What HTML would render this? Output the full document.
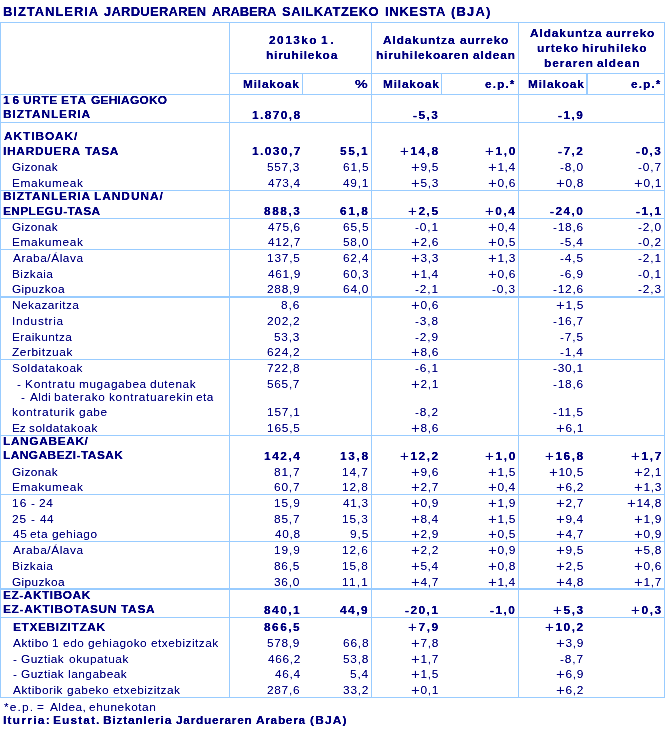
<!DOCTYPE html>
<html><head><meta charset="utf-8"><title>BJA</title>
<style>
html,body{margin:0;padding:0;background:#fff;}
body{width:667px;height:730px;position:relative;overflow:hidden;font-family:"Liberation Sans",sans-serif;color:#000080;}
.t{position:absolute;white-space:pre;line-height:14px;font-size:11px;transform:scaleX(1.08);transform-origin:0 0;}
.l{position:absolute;background:#9cf;}
.p{font-size:14px;font-weight:normal;position:relative;top:1px;line-height:0;}
.g{position:absolute;left:0;top:0;width:667px;height:730px;}
#tb{filter:url(#fb);} #tr{filter:url(#fr);}
</style></head><body>
<svg width="0" height="0" style="position:absolute"><defs>
<filter id="fb" x="0" y="0" width="100%" height="100%" color-interpolation-filters="sRGB"><feComponentTransfer><feFuncA type="table" tableValues="0 0.3 0.9 1 1"/></feComponentTransfer></filter>
<filter id="fr" x="0" y="0" width="100%" height="100%" color-interpolation-filters="sRGB"><feComponentTransfer><feFuncA type="table" tableValues="0 0.15 0.62 0.95 1"/></feComponentTransfer></filter>
</defs></svg>
<div class="l" style="left:0px;top:22px;width:665px;height:1px"></div>
<div class="l" style="left:0px;top:94px;width:665px;height:1px"></div>
<div class="l" style="left:0px;top:122px;width:665px;height:1px"></div>
<div class="l" style="left:0px;top:190px;width:665px;height:1px"></div>
<div class="l" style="left:0px;top:218px;width:665px;height:1px"></div>
<div class="l" style="left:0px;top:249px;width:665px;height:1px"></div>
<div class="l" style="left:0px;top:359px;width:665px;height:1px"></div>
<div class="l" style="left:0px;top:435px;width:665px;height:1px"></div>
<div class="l" style="left:0px;top:494px;width:665px;height:1px"></div>
<div class="l" style="left:0px;top:541px;width:665px;height:1px"></div>
<div class="l" style="left:0px;top:617px;width:665px;height:1px"></div>
<div class="l" style="left:0px;top:697px;width:665px;height:1px"></div>
<div class="l" style="left:0px;top:296px;width:665px;height:2px"></div>
<div class="l" style="left:0px;top:588px;width:665px;height:2px"></div>
<div class="l" style="left:229px;top:73px;width:436px;height:1px"></div>
<div class="l" style="left:0px;top:22px;width:1px;height:676px"></div>
<div class="l" style="left:229px;top:22px;width:1px;height:676px"></div>
<div class="l" style="left:371px;top:22px;width:1px;height:676px"></div>
<div class="l" style="left:518px;top:22px;width:1px;height:676px"></div>
<div class="l" style="left:664px;top:22px;width:1px;height:676px"></div>
<div class="l" style="left:302px;top:73px;width:1px;height:22px"></div>
<div class="l" style="left:441px;top:73px;width:1px;height:22px"></div>
<div class="l" style="left:586px;top:73px;width:2px;height:22px"></div>
<div class="g" id="tb">
<div class="t" style="left:3.13px;top:5.00px;font-size:12px;letter-spacing:0.906px;font-weight:bold;">BIZTANLERIA</div>
<div class="t" style="left:103.80px;top:5.00px;font-size:12px;letter-spacing:0.250px;font-weight:bold;">JARDUERAREN</div>
<div class="t" style="left:211.68px;top:5.00px;font-size:12px;letter-spacing:-0.083px;font-weight:bold;">ARABERA</div>
<div class="t" style="left:281.93px;top:5.00px;font-size:12px;letter-spacing:0.502px;font-weight:bold;">SAILKATZEKO</div>
<div class="t" style="left:384.73px;top:5.00px;font-size:12px;letter-spacing:0.692px;font-weight:bold;">INKESTA</div>
<div class="t" style="left:450.85px;top:5.00px;font-size:12px;letter-spacing:1.096px;font-weight:bold;">(BJA)</div>
<div class="t" style="left:269.39px;top:33.00px;font-size:11px;letter-spacing:1.357px;font-weight:bold;">2013ko</div>
<div class="t" style="left:320.87px;top:33.00px;font-size:11px;letter-spacing:2.626px;font-weight:bold;">1.</div>
<div class="t" style="left:265.52px;top:48.00px;font-size:11px;letter-spacing:0.730px;font-weight:bold;">hiruhilekoa</div>
<div class="t" style="left:383.20px;top:33.00px;font-size:11px;letter-spacing:0.839px;font-weight:bold;">Aldakuntza</div>
<div class="t" style="left:459.62px;top:33.00px;font-size:11px;letter-spacing:0.735px;font-weight:bold;">aurreko</div>
<div class="t" style="left:376.27px;top:48.00px;font-size:11px;letter-spacing:0.762px;font-weight:bold;">hiruhilekoaren</div>
<div class="t" style="left:472.86px;top:48.00px;font-size:11px;letter-spacing:0.805px;font-weight:bold;">aldean</div>
<div class="t" style="left:529.70px;top:26.00px;font-size:11px;letter-spacing:0.839px;font-weight:bold;">Aldakuntza</div>
<div class="t" style="left:606.12px;top:26.00px;font-size:11px;letter-spacing:0.735px;font-weight:bold;">aurreko</div>
<div class="t" style="left:536.96px;top:41.00px;font-size:11px;letter-spacing:0.858px;font-weight:bold;">urteko</div>
<div class="t" style="left:581.70px;top:41.00px;font-size:11px;letter-spacing:0.792px;font-weight:bold;">hiruhileko</div>
<div class="t" style="left:543.92px;top:56.00px;font-size:11px;letter-spacing:0.842px;font-weight:bold;">beraren</div>
<div class="t" style="left:597.03px;top:56.00px;font-size:11px;letter-spacing:0.883px;font-weight:bold;">aldean</div>
<div class="t" style="left:242.81px;top:77.00px;font-size:11px;letter-spacing:0.741px;font-weight:bold;">Milakoak</div>
<div class="t" style="left:355.24px;top:77.00px;font-size:11px;letter-spacing:1.894px;font-weight:bold;transform:scaleX(1.300);">%</div>
<div class="t" style="left:382.91px;top:77.00px;font-size:11px;letter-spacing:0.741px;font-weight:bold;">Milakoak</div>
<div class="t" style="left:484.84px;top:77.00px;font-size:11px;letter-spacing:1.016px;font-weight:bold;">e.p.*</div>
<div class="t" style="left:527.81px;top:77.00px;font-size:11px;letter-spacing:0.741px;font-weight:bold;">Milakoak</div>
<div class="t" style="left:630.84px;top:77.00px;font-size:11px;letter-spacing:1.016px;font-weight:bold;">e.p.*</div>
<div class="t" style="left:3.25px;top:93.00px;font-size:11px;letter-spacing:2.745px;font-weight:bold;">16</div>
<div class="t" style="left:23.29px;top:93.00px;font-size:11px;letter-spacing:0.567px;font-weight:bold;">URTE</div>
<div class="t" style="left:61.21px;top:93.00px;font-size:11px;letter-spacing:1.032px;font-weight:bold;">ETA</div>
<div class="t" style="left:90.51px;top:93.00px;font-size:11px;letter-spacing:0.238px;font-weight:bold;">GEHIAGOKO</div>
<div class="t" style="left:3.21px;top:107.00px;font-size:11px;letter-spacing:0.815px;font-weight:bold;">BIZTANLERIA</div>
<div class="t" style="left:251.55px;top:108.00px;font-size:11px;letter-spacing:1.309px;font-weight:bold;">1.870,8</div>
<div class="t" style="left:413.34px;top:108.00px;font-size:11px;letter-spacing:1.365px;font-weight:bold;">-5,3</div>
<div class="t" style="left:558.34px;top:108.00px;font-size:11px;letter-spacing:1.369px;font-weight:bold;">-1,9</div>
<div class="t" style="left:3.70px;top:129.00px;font-size:11px;letter-spacing:0.858px;font-weight:bold;">AKTIBOAK/</div>
<div class="t" style="left:3.21px;top:144.00px;font-size:11px;letter-spacing:0.675px;font-weight:bold;">IHARDUERA</div>
<div class="t" style="left:84.87px;top:144.00px;font-size:11px;letter-spacing:0.614px;font-weight:bold;">TASA</div>
<div class="t" style="left:251.55px;top:144.00px;font-size:11px;letter-spacing:1.333px;font-weight:bold;">1.030,7</div>
<div class="t" style="left:340.13px;top:144.00px;font-size:11px;letter-spacing:1.412px;font-weight:bold;">55,1</div>
<div class="t" style="left:400.06px;top:144.00px;font-size:11px;letter-spacing:1.425px;font-weight:bold;"><span class="p">+</span>14,8</div>
<div class="t" style="left:485.06px;top:144.00px;font-size:11px;letter-spacing:1.507px;font-weight:bold;"><span class="p">+</span>1,0</div>
<div class="t" style="left:558.34px;top:144.00px;font-size:11px;letter-spacing:1.380px;font-weight:bold;">-7,2</div>
<div class="t" style="left:636.34px;top:144.00px;font-size:11px;letter-spacing:1.365px;font-weight:bold;">-0,3</div>
<div class="t" style="left:3.21px;top:189.00px;font-size:11px;letter-spacing:0.815px;font-weight:bold;">BIZTANLERIA</div>
<div class="t" style="left:94.21px;top:189.00px;font-size:11px;letter-spacing:0.910px;font-weight:bold;">LANDUNA/</div>
<div class="t" style="left:3.21px;top:204.00px;font-size:11px;letter-spacing:0.359px;font-weight:bold;">ENPLEGU-TASA</div>
<div class="t" style="left:263.92px;top:204.00px;font-size:11px;letter-spacing:1.407px;font-weight:bold;">888,3</div>
<div class="t" style="left:340.06px;top:204.00px;font-size:11px;letter-spacing:1.444px;font-weight:bold;">61,8</div>
<div class="t" style="left:408.06px;top:204.00px;font-size:11px;letter-spacing:1.459px;font-weight:bold;"><span class="p">+</span>2,5</div>
<div class="t" style="left:485.06px;top:204.00px;font-size:11px;letter-spacing:1.376px;font-weight:bold;"><span class="p">+</span>0,4</div>
<div class="t" style="left:550.34px;top:204.00px;font-size:11px;letter-spacing:1.360px;font-weight:bold;">-24,0</div>
<div class="t" style="left:636.34px;top:204.00px;font-size:11px;letter-spacing:1.335px;font-weight:bold;">-1,1</div>
<div class="t" style="left:3.21px;top:434.00px;font-size:11px;letter-spacing:0.588px;font-weight:bold;">LANGABEAK/</div>
<div class="t" style="left:3.21px;top:448.00px;font-size:11px;letter-spacing:0.438px;font-weight:bold;">LANGABEZI-TASAK</div>
<div class="t" style="left:263.55px;top:449.00px;font-size:11px;letter-spacing:1.409px;font-weight:bold;">142,4</div>
<div class="t" style="left:339.75px;top:449.00px;font-size:11px;letter-spacing:1.541px;font-weight:bold;">13,8</div>
<div class="t" style="left:400.06px;top:449.00px;font-size:11px;letter-spacing:1.450px;font-weight:bold;"><span class="p">+</span>12,2</div>
<div class="t" style="left:485.06px;top:449.00px;font-size:11px;letter-spacing:1.507px;font-weight:bold;"><span class="p">+</span>1,0</div>
<div class="t" style="left:545.06px;top:449.00px;font-size:11px;letter-spacing:1.425px;font-weight:bold;"><span class="p">+</span>16,8</div>
<div class="t" style="left:631.06px;top:449.00px;font-size:11px;letter-spacing:1.518px;font-weight:bold;"><span class="p">+</span>1,7</div>
<div class="t" style="left:3.21px;top:588.00px;font-size:11px;letter-spacing:0.507px;font-weight:bold;">EZ-AKTIBOAK</div>
<div class="t" style="left:3.21px;top:602.00px;font-size:11px;letter-spacing:0.615px;font-weight:bold;">EZ-AKTIBOTASUN</div>
<div class="t" style="left:120.65px;top:602.00px;font-size:11px;letter-spacing:0.682px;font-weight:bold;">TASA</div>
<div class="t" style="left:263.92px;top:603.00px;font-size:11px;letter-spacing:1.384px;font-weight:bold;">840,1</div>
<div class="t" style="left:340.32px;top:603.00px;font-size:11px;letter-spacing:1.389px;font-weight:bold;">44,9</div>
<div class="t" style="left:405.34px;top:603.00px;font-size:11px;letter-spacing:1.324px;font-weight:bold;">-20,1</div>
<div class="t" style="left:490.34px;top:603.00px;font-size:11px;letter-spacing:1.383px;font-weight:bold;">-1,0</div>
<div class="t" style="left:553.06px;top:603.00px;font-size:11px;letter-spacing:1.489px;font-weight:bold;"><span class="p">+</span>5,3</div>
<div class="t" style="left:631.06px;top:603.00px;font-size:11px;letter-spacing:1.489px;font-weight:bold;"><span class="p">+</span>0,3</div>
<div class="t" style="left:12.71px;top:620.00px;font-size:11px;letter-spacing:0.586px;font-weight:bold;">ETXEBIZITZAK</div>
<div class="t" style="left:263.92px;top:620.00px;font-size:11px;letter-spacing:1.384px;font-weight:bold;">866,5</div>
<div class="t" style="left:408.06px;top:620.00px;font-size:11px;letter-spacing:1.493px;font-weight:bold;"><span class="p">+</span>7,9</div>
<div class="t" style="left:545.06px;top:620.00px;font-size:11px;letter-spacing:1.450px;font-weight:bold;"><span class="p">+</span>10,2</div>
<div class="t" style="left:3.21px;top:713.00px;font-size:11px;letter-spacing:1.192px;font-weight:bold;">Iturria:</div>
<div class="t" style="left:53.10px;top:713.00px;font-size:11px;letter-spacing:1.035px;font-weight:bold;">Eustat.</div>
<div class="t" style="left:103.00px;top:713.00px;font-size:11px;letter-spacing:0.760px;font-weight:bold;">Biztanleria</div>
<div class="t" style="left:176.38px;top:713.00px;font-size:11px;letter-spacing:0.656px;font-weight:bold;">Jardueraren</div>
<div class="t" style="left:256.31px;top:713.00px;font-size:11px;letter-spacing:0.644px;font-weight:bold;">Arabera</div>
<div class="t" style="left:310.06px;top:713.00px;font-size:11px;letter-spacing:1.123px;font-weight:bold;">(BJA)</div>
</div>
<div class="g" id="tr">
<div class="t" style="left:12.20px;top:160.00px;font-size:11px;letter-spacing:0.309px;">Gizonak</div>
<div class="t" style="left:267.42px;top:160.00px;font-size:11px;letter-spacing:0.618px;">557,3</div>
<div class="t" style="left:342.50px;top:160.00px;font-size:11px;letter-spacing:0.735px;">61,5</div>
<div class="t" style="left:411.06px;top:160.00px;font-size:11px;letter-spacing:0.585px;"><span class="p">+</span>9,5</div>
<div class="t" style="left:488.06px;top:160.00px;font-size:11px;letter-spacing:0.538px;"><span class="p">+</span>1,4</div>
<div class="t" style="left:560.27px;top:160.00px;font-size:11px;letter-spacing:0.779px;">-8,0</div>
<div class="t" style="left:638.27px;top:160.00px;font-size:11px;letter-spacing:0.820px;">-0,7</div>
<div class="t" style="left:11.83px;top:176.00px;font-size:11px;letter-spacing:0.571px;">Emakumeak</div>
<div class="t" style="left:267.63px;top:176.00px;font-size:11px;letter-spacing:0.531px;">473,4</div>
<div class="t" style="left:342.83px;top:176.00px;font-size:11px;letter-spacing:0.658px;">49,1</div>
<div class="t" style="left:411.06px;top:176.00px;font-size:11px;letter-spacing:0.592px;"><span class="p">+</span>5,3</div>
<div class="t" style="left:488.06px;top:176.00px;font-size:11px;letter-spacing:0.592px;"><span class="p">+</span>0,6</div>
<div class="t" style="left:556.06px;top:176.00px;font-size:11px;letter-spacing:0.590px;"><span class="p">+</span>0,8</div>
<div class="t" style="left:634.06px;top:176.00px;font-size:11px;letter-spacing:0.610px;"><span class="p">+</span>0,1</div>
<div class="t" style="left:12.20px;top:220.00px;font-size:11px;letter-spacing:0.309px;">Gizonak</div>
<div class="t" style="left:267.63px;top:220.00px;font-size:11px;letter-spacing:0.571px;">475,6</div>
<div class="t" style="left:342.50px;top:220.00px;font-size:11px;letter-spacing:0.735px;">65,5</div>
<div class="t" style="left:415.27px;top:220.00px;font-size:11px;letter-spacing:0.814px;">-0,1</div>
<div class="t" style="left:488.06px;top:220.00px;font-size:11px;letter-spacing:0.538px;"><span class="p">+</span>0,4</div>
<div class="t" style="left:553.27px;top:220.00px;font-size:11px;letter-spacing:0.688px;">-18,6</div>
<div class="t" style="left:638.27px;top:220.00px;font-size:11px;letter-spacing:0.779px;">-2,0</div>
<div class="t" style="left:11.83px;top:235.00px;font-size:11px;letter-spacing:0.571px;">Emakumeak</div>
<div class="t" style="left:267.63px;top:235.00px;font-size:11px;letter-spacing:0.589px;">412,7</div>
<div class="t" style="left:342.62px;top:235.00px;font-size:11px;letter-spacing:0.685px;">58,0</div>
<div class="t" style="left:411.06px;top:235.00px;font-size:11px;letter-spacing:0.592px;"><span class="p">+</span>2,6</div>
<div class="t" style="left:488.06px;top:235.00px;font-size:11px;letter-spacing:0.585px;"><span class="p">+</span>0,5</div>
<div class="t" style="left:560.27px;top:235.00px;font-size:11px;letter-spacing:0.743px;">-5,4</div>
<div class="t" style="left:638.27px;top:235.00px;font-size:11px;letter-spacing:0.820px;">-0,2</div>
<div class="t" style="left:12.78px;top:251.00px;font-size:11px;letter-spacing:0.491px;">Araba/Álava</div>
<div class="t" style="left:267.00px;top:251.00px;font-size:11px;letter-spacing:0.712px;">137,5</div>
<div class="t" style="left:342.50px;top:251.00px;font-size:11px;letter-spacing:0.689px;">62,4</div>
<div class="t" style="left:411.06px;top:251.00px;font-size:11px;letter-spacing:0.592px;"><span class="p">+</span>3,3</div>
<div class="t" style="left:488.06px;top:251.00px;font-size:11px;letter-spacing:0.592px;"><span class="p">+</span>1,3</div>
<div class="t" style="left:560.27px;top:251.00px;font-size:11px;letter-spacing:0.789px;">-4,5</div>
<div class="t" style="left:638.27px;top:251.00px;font-size:11px;letter-spacing:0.814px;">-2,1</div>
<div class="t" style="left:11.83px;top:267.00px;font-size:11px;letter-spacing:0.413px;">Bizkaia</div>
<div class="t" style="left:267.63px;top:267.00px;font-size:11px;letter-spacing:0.581px;">461,9</div>
<div class="t" style="left:342.50px;top:267.00px;font-size:11px;letter-spacing:0.742px;">60,3</div>
<div class="t" style="left:411.06px;top:267.00px;font-size:11px;letter-spacing:0.538px;"><span class="p">+</span>1,4</div>
<div class="t" style="left:488.06px;top:267.00px;font-size:11px;letter-spacing:0.592px;"><span class="p">+</span>0,6</div>
<div class="t" style="left:560.27px;top:267.00px;font-size:11px;letter-spacing:0.809px;">-6,9</div>
<div class="t" style="left:638.27px;top:267.00px;font-size:11px;letter-spacing:0.814px;">-0,1</div>
<div class="t" style="left:12.20px;top:282.00px;font-size:11px;letter-spacing:0.319px;">Gipuzkoa</div>
<div class="t" style="left:267.30px;top:282.00px;font-size:11px;letter-spacing:0.656px;">288,9</div>
<div class="t" style="left:342.50px;top:282.00px;font-size:11px;letter-spacing:0.724px;">64,0</div>
<div class="t" style="left:415.27px;top:282.00px;font-size:11px;letter-spacing:0.814px;">-2,1</div>
<div class="t" style="left:492.27px;top:282.00px;font-size:11px;letter-spacing:0.796px;">-0,3</div>
<div class="t" style="left:553.27px;top:282.00px;font-size:11px;letter-spacing:0.688px;">-12,6</div>
<div class="t" style="left:638.27px;top:282.00px;font-size:11px;letter-spacing:0.796px;">-2,3</div>
<div class="t" style="left:11.83px;top:298.00px;font-size:11px;letter-spacing:0.394px;">Nekazaritza</div>
<div class="t" style="left:281.38px;top:298.00px;font-size:11px;letter-spacing:0.891px;">8,6</div>
<div class="t" style="left:411.06px;top:298.00px;font-size:11px;letter-spacing:0.592px;"><span class="p">+</span>0,6</div>
<div class="t" style="left:556.06px;top:298.00px;font-size:11px;letter-spacing:0.585px;"><span class="p">+</span>1,5</div>
<div class="t" style="left:11.70px;top:314.00px;font-size:11px;letter-spacing:0.640px;">Industria</div>
<div class="t" style="left:267.30px;top:314.00px;font-size:11px;letter-spacing:0.664px;">202,2</div>
<div class="t" style="left:415.27px;top:314.00px;font-size:11px;letter-spacing:0.795px;">-3,8</div>
<div class="t" style="left:553.27px;top:314.00px;font-size:11px;letter-spacing:0.706px;">-16,7</div>
<div class="t" style="left:11.83px;top:330.00px;font-size:11px;letter-spacing:0.396px;">Eraikuntza</div>
<div class="t" style="left:274.42px;top:330.00px;font-size:11px;letter-spacing:0.703px;">53,3</div>
<div class="t" style="left:415.27px;top:330.00px;font-size:11px;letter-spacing:0.809px;">-2,9</div>
<div class="t" style="left:560.27px;top:330.00px;font-size:11px;letter-spacing:0.789px;">-7,5</div>
<div class="t" style="left:12.42px;top:345.00px;font-size:11px;letter-spacing:0.504px;">Zerbitzuak</div>
<div class="t" style="left:267.30px;top:345.00px;font-size:11px;letter-spacing:0.665px;">624,2</div>
<div class="t" style="left:411.06px;top:345.00px;font-size:11px;letter-spacing:0.592px;"><span class="p">+</span>8,6</div>
<div class="t" style="left:560.27px;top:345.00px;font-size:11px;letter-spacing:0.743px;">-1,4</div>
<div class="t" style="left:12.26px;top:361.00px;font-size:11px;letter-spacing:0.476px;">Soldatakoak</div>
<div class="t" style="left:267.29px;top:361.00px;font-size:11px;letter-spacing:0.648px;">722,8</div>
<div class="t" style="left:415.27px;top:361.00px;font-size:11px;letter-spacing:0.814px;">-6,1</div>
<div class="t" style="left:553.27px;top:361.00px;font-size:11px;letter-spacing:0.702px;">-30,1</div>
<div class="t" style="left:17.04px;top:377.00px;font-size:11px;letter-spacing:0.000px;">-</div>
<div class="t" style="left:25.08px;top:377.00px;font-size:11px;letter-spacing:0.678px;">Kontratu</div>
<div class="t" style="left:78.56px;top:377.00px;font-size:11px;letter-spacing:0.511px;">mugagabea</div>
<div class="t" style="left:150.25px;top:377.00px;font-size:11px;letter-spacing:0.534px;">dutenak</div>
<div class="t" style="left:267.42px;top:377.00px;font-size:11px;letter-spacing:0.636px;">565,7</div>
<div class="t" style="left:411.06px;top:377.00px;font-size:11px;letter-spacing:0.610px;"><span class="p">+</span>2,1</div>
<div class="t" style="left:553.27px;top:377.00px;font-size:11px;letter-spacing:0.688px;">-18,6</div>
<div class="t" style="left:21.00px;top:390.00px;font-size:11px;letter-spacing:0.000px;">-</div>
<div class="t" style="left:29.91px;top:390.00px;font-size:11px;letter-spacing:0.268px;">Aldi</div>
<div class="t" style="left:53.99px;top:390.00px;font-size:11px;letter-spacing:0.618px;">baterako</div>
<div class="t" style="left:108.56px;top:390.00px;font-size:11px;letter-spacing:0.619px;">kontratuarekin</div>
<div class="t" style="left:196.22px;top:390.00px;font-size:11px;letter-spacing:0.402px;">eta</div>
<div class="t" style="left:12.00px;top:405.00px;font-size:11px;letter-spacing:0.678px;">kontraturik</div>
<div class="t" style="left:79.30px;top:405.00px;font-size:11px;letter-spacing:0.494px;">gabe</div>
<div class="t" style="left:267.00px;top:405.00px;font-size:11px;letter-spacing:0.731px;">157,1</div>
<div class="t" style="left:415.27px;top:405.00px;font-size:11px;letter-spacing:0.820px;">-8,2</div>
<div class="t" style="left:553.27px;top:405.00px;font-size:11px;letter-spacing:0.887px;">-11,5</div>
<div class="t" style="left:11.83px;top:421.00px;font-size:11px;letter-spacing:-0.276px;">Ez</div>
<div class="t" style="left:29.47px;top:421.00px;font-size:11px;letter-spacing:0.455px;">soldatakoak</div>
<div class="t" style="left:267.00px;top:421.00px;font-size:11px;letter-spacing:0.712px;">165,5</div>
<div class="t" style="left:411.06px;top:421.00px;font-size:11px;letter-spacing:0.592px;"><span class="p">+</span>8,6</div>
<div class="t" style="left:556.06px;top:421.00px;font-size:11px;letter-spacing:0.610px;"><span class="p">+</span>6,1</div>
<div class="t" style="left:12.20px;top:465.00px;font-size:11px;letter-spacing:0.309px;">Gizonak</div>
<div class="t" style="left:274.38px;top:465.00px;font-size:11px;letter-spacing:0.739px;">81,7</div>
<div class="t" style="left:342.20px;top:465.00px;font-size:11px;letter-spacing:0.859px;">14,7</div>
<div class="t" style="left:411.06px;top:465.00px;font-size:11px;letter-spacing:0.592px;"><span class="p">+</span>9,6</div>
<div class="t" style="left:488.06px;top:465.00px;font-size:11px;letter-spacing:0.585px;"><span class="p">+</span>1,5</div>
<div class="t" style="left:549.06px;top:465.00px;font-size:11px;letter-spacing:0.529px;"><span class="p">+</span>10,5</div>
<div class="t" style="left:634.06px;top:465.00px;font-size:11px;letter-spacing:0.610px;"><span class="p">+</span>2,1</div>
<div class="t" style="left:11.83px;top:480.00px;font-size:11px;letter-spacing:0.571px;">Emakumeak</div>
<div class="t" style="left:274.30px;top:480.00px;font-size:11px;letter-spacing:0.766px;">60,7</div>
<div class="t" style="left:342.20px;top:480.00px;font-size:11px;letter-spacing:0.834px;">12,8</div>
<div class="t" style="left:411.06px;top:480.00px;font-size:11px;letter-spacing:0.615px;"><span class="p">+</span>2,7</div>
<div class="t" style="left:488.06px;top:480.00px;font-size:11px;letter-spacing:0.538px;"><span class="p">+</span>0,4</div>
<div class="t" style="left:556.06px;top:480.00px;font-size:11px;letter-spacing:0.615px;"><span class="p">+</span>6,2</div>
<div class="t" style="left:634.06px;top:480.00px;font-size:11px;letter-spacing:0.592px;"><span class="p">+</span>1,3</div>
<div class="t" style="left:11.90px;top:496.00px;font-size:11px;letter-spacing:1.124px;">16</div>
<div class="t" style="left:30.82px;top:496.00px;font-size:11px;letter-spacing:0.000px;">-</div>
<div class="t" style="left:39.20px;top:496.00px;font-size:11px;letter-spacing:0.678px;">24</div>
<div class="t" style="left:274.00px;top:496.00px;font-size:11px;letter-spacing:0.848px;">15,9</div>
<div class="t" style="left:342.83px;top:496.00px;font-size:11px;letter-spacing:0.640px;">41,3</div>
<div class="t" style="left:411.06px;top:496.00px;font-size:11px;letter-spacing:0.604px;"><span class="p">+</span>0,9</div>
<div class="t" style="left:488.06px;top:496.00px;font-size:11px;letter-spacing:0.604px;"><span class="p">+</span>1,9</div>
<div class="t" style="left:556.06px;top:496.00px;font-size:11px;letter-spacing:0.615px;"><span class="p">+</span>2,7</div>
<div class="t" style="left:627.06px;top:496.00px;font-size:11px;letter-spacing:0.534px;"><span class="p">+</span>14,8</div>
<div class="t" style="left:12.20px;top:512.00px;font-size:11px;letter-spacing:0.818px;">25</div>
<div class="t" style="left:30.82px;top:512.00px;font-size:11px;letter-spacing:0.000px;">-</div>
<div class="t" style="left:39.53px;top:512.00px;font-size:11px;letter-spacing:0.377px;">44</div>
<div class="t" style="left:274.38px;top:512.00px;font-size:11px;letter-spacing:0.739px;">85,7</div>
<div class="t" style="left:342.20px;top:512.00px;font-size:11px;letter-spacing:0.835px;">15,3</div>
<div class="t" style="left:411.06px;top:512.00px;font-size:11px;letter-spacing:0.538px;"><span class="p">+</span>8,4</div>
<div class="t" style="left:488.06px;top:512.00px;font-size:11px;letter-spacing:0.585px;"><span class="p">+</span>1,5</div>
<div class="t" style="left:556.06px;top:512.00px;font-size:11px;letter-spacing:0.538px;"><span class="p">+</span>9,4</div>
<div class="t" style="left:634.06px;top:512.00px;font-size:11px;letter-spacing:0.604px;"><span class="p">+</span>1,9</div>
<div class="t" style="left:12.53px;top:527.00px;font-size:11px;letter-spacing:0.517px;">45</div>
<div class="t" style="left:30.30px;top:527.00px;font-size:11px;letter-spacing:0.459px;">eta</div>
<div class="t" style="left:52.30px;top:527.00px;font-size:11px;letter-spacing:0.420px;">gehiago</div>
<div class="t" style="left:274.63px;top:527.00px;font-size:11px;letter-spacing:0.638px;">40,8</div>
<div class="t" style="left:349.54px;top:527.00px;font-size:11px;letter-spacing:0.899px;">9,5</div>
<div class="t" style="left:411.06px;top:527.00px;font-size:11px;letter-spacing:0.604px;"><span class="p">+</span>2,9</div>
<div class="t" style="left:488.06px;top:527.00px;font-size:11px;letter-spacing:0.585px;"><span class="p">+</span>0,5</div>
<div class="t" style="left:556.06px;top:527.00px;font-size:11px;letter-spacing:0.615px;"><span class="p">+</span>4,7</div>
<div class="t" style="left:634.06px;top:527.00px;font-size:11px;letter-spacing:0.604px;"><span class="p">+</span>0,9</div>
<div class="t" style="left:12.78px;top:543.00px;font-size:11px;letter-spacing:0.491px;">Araba/Álava</div>
<div class="t" style="left:274.00px;top:543.00px;font-size:11px;letter-spacing:0.848px;">19,9</div>
<div class="t" style="left:342.20px;top:543.00px;font-size:11px;letter-spacing:0.835px;">12,6</div>
<div class="t" style="left:411.06px;top:543.00px;font-size:11px;letter-spacing:0.615px;"><span class="p">+</span>2,2</div>
<div class="t" style="left:488.06px;top:543.00px;font-size:11px;letter-spacing:0.604px;"><span class="p">+</span>0,9</div>
<div class="t" style="left:556.06px;top:543.00px;font-size:11px;letter-spacing:0.585px;"><span class="p">+</span>9,5</div>
<div class="t" style="left:634.06px;top:543.00px;font-size:11px;letter-spacing:0.590px;"><span class="p">+</span>5,8</div>
<div class="t" style="left:11.83px;top:559.00px;font-size:11px;letter-spacing:0.413px;">Bizkaia</div>
<div class="t" style="left:274.38px;top:559.00px;font-size:11px;letter-spacing:0.708px;">86,5</div>
<div class="t" style="left:342.20px;top:559.00px;font-size:11px;letter-spacing:0.834px;">15,8</div>
<div class="t" style="left:411.06px;top:559.00px;font-size:11px;letter-spacing:0.538px;"><span class="p">+</span>5,4</div>
<div class="t" style="left:488.06px;top:559.00px;font-size:11px;letter-spacing:0.590px;"><span class="p">+</span>0,8</div>
<div class="t" style="left:556.06px;top:559.00px;font-size:11px;letter-spacing:0.585px;"><span class="p">+</span>2,5</div>
<div class="t" style="left:634.06px;top:559.00px;font-size:11px;letter-spacing:0.592px;"><span class="p">+</span>0,6</div>
<div class="t" style="left:12.20px;top:575.00px;font-size:11px;letter-spacing:0.319px;">Gipuzkoa</div>
<div class="t" style="left:274.45px;top:575.00px;font-size:11px;letter-spacing:0.678px;">36,0</div>
<div class="t" style="left:342.20px;top:575.00px;font-size:11px;letter-spacing:1.125px;">11,1</div>
<div class="t" style="left:411.06px;top:575.00px;font-size:11px;letter-spacing:0.615px;"><span class="p">+</span>4,7</div>
<div class="t" style="left:488.06px;top:575.00px;font-size:11px;letter-spacing:0.538px;"><span class="p">+</span>1,4</div>
<div class="t" style="left:556.06px;top:575.00px;font-size:11px;letter-spacing:0.590px;"><span class="p">+</span>4,8</div>
<div class="t" style="left:634.06px;top:575.00px;font-size:11px;letter-spacing:0.615px;"><span class="p">+</span>1,7</div>
<div class="t" style="left:12.98px;top:636.00px;font-size:11px;letter-spacing:0.432px;">Aktibo</div>
<div class="t" style="left:52.32px;top:636.00px;font-size:11px;letter-spacing:0.000px;">1</div>
<div class="t" style="left:63.25px;top:636.00px;font-size:11px;letter-spacing:0.503px;">edo</div>
<div class="t" style="left:88.13px;top:636.00px;font-size:11px;letter-spacing:0.450px;">gehiagoko</div>
<div class="t" style="left:150.82px;top:636.00px;font-size:11px;letter-spacing:0.429px;">etxebizitzak</div>
<div class="t" style="left:267.42px;top:636.00px;font-size:11px;letter-spacing:0.628px;">578,9</div>
<div class="t" style="left:342.50px;top:636.00px;font-size:11px;letter-spacing:0.740px;">66,8</div>
<div class="t" style="left:411.06px;top:636.00px;font-size:11px;letter-spacing:0.590px;"><span class="p">+</span>7,8</div>
<div class="t" style="left:556.06px;top:636.00px;font-size:11px;letter-spacing:0.604px;"><span class="p">+</span>3,9</div>
<div class="t" style="left:13.02px;top:652.00px;font-size:11px;letter-spacing:0.000px;">-</div>
<div class="t" style="left:21.40px;top:652.00px;font-size:11px;letter-spacing:0.356px;">Guztiak</div>
<div class="t" style="left:68.50px;top:652.00px;font-size:11px;letter-spacing:0.540px;">okupatuak</div>
<div class="t" style="left:267.63px;top:652.00px;font-size:11px;letter-spacing:0.589px;">466,2</div>
<div class="t" style="left:342.62px;top:652.00px;font-size:11px;letter-spacing:0.701px;">53,8</div>
<div class="t" style="left:411.06px;top:652.00px;font-size:11px;letter-spacing:0.615px;"><span class="p">+</span>1,7</div>
<div class="t" style="left:560.27px;top:652.00px;font-size:11px;letter-spacing:0.820px;">-8,7</div>
<div class="t" style="left:13.02px;top:667.00px;font-size:11px;letter-spacing:0.000px;">-</div>
<div class="t" style="left:21.40px;top:667.00px;font-size:11px;letter-spacing:0.356px;">Guztiak</div>
<div class="t" style="left:68.20px;top:667.00px;font-size:11px;letter-spacing:0.458px;">langabeak</div>
<div class="t" style="left:274.63px;top:667.00px;font-size:11px;letter-spacing:0.586px;">46,4</div>
<div class="t" style="left:349.62px;top:667.00px;font-size:11px;letter-spacing:0.792px;">5,4</div>
<div class="t" style="left:411.06px;top:667.00px;font-size:11px;letter-spacing:0.585px;"><span class="p">+</span>1,5</div>
<div class="t" style="left:556.06px;top:667.00px;font-size:11px;letter-spacing:0.604px;"><span class="p">+</span>6,9</div>
<div class="t" style="left:12.98px;top:683.00px;font-size:11px;letter-spacing:0.464px;">Aktiborik</div>
<div class="t" style="left:67.01px;top:683.00px;font-size:11px;letter-spacing:0.492px;">gabeko</div>
<div class="t" style="left:112.59px;top:683.00px;font-size:11px;letter-spacing:0.406px;">etxebizitzak</div>
<div class="t" style="left:267.30px;top:683.00px;font-size:11px;letter-spacing:0.646px;">287,6</div>
<div class="t" style="left:342.65px;top:683.00px;font-size:11px;letter-spacing:0.719px;">33,2</div>
<div class="t" style="left:411.06px;top:683.00px;font-size:11px;letter-spacing:0.610px;"><span class="p">+</span>0,1</div>
<div class="t" style="left:556.06px;top:683.00px;font-size:11px;letter-spacing:0.615px;"><span class="p">+</span>6,2</div>
<div class="t" style="left:3.81px;top:700.00px;font-size:11px;letter-spacing:1.077px;">*e.p.</div>
<div class="t" style="left:37.29px;top:700.00px;font-size:11px;letter-spacing:0.000px;">=</div>
<div class="t" style="left:49.67px;top:700.00px;font-size:11px;letter-spacing:0.403px;">Aldea,</div>
<div class="t" style="left:88.93px;top:700.00px;font-size:11px;letter-spacing:0.489px;">ehunekotan</div>
</div>
</body></html>
